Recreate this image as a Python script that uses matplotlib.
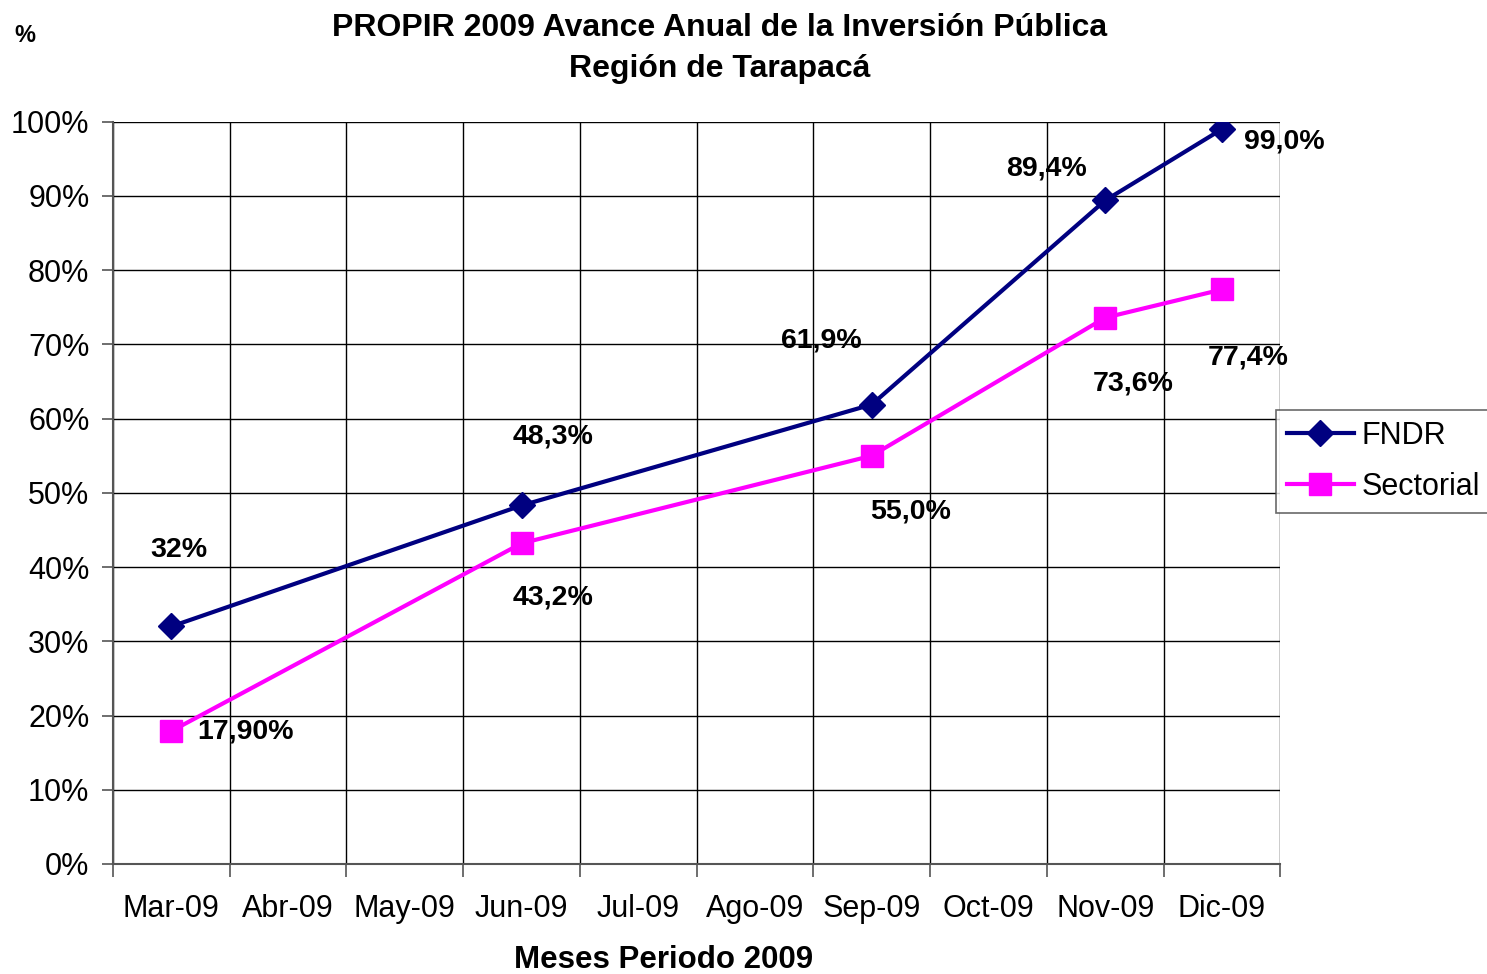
import matplotlib.pyplot as plt
import numpy as np

plt.rcParams["font.family"] = ["Liberation Sans", "DejaVu Sans"]

meses = ["Mar-09", "Abr-09", "May-09", "Jun-09", "Jul-09",
         "Ago-09", "Sep-09", "Oct-09", "Nov-09", "Dic-09"]
puntos_mes = ["Mar-09", "Jun-09", "Sep-09", "Nov-09", "Dic-09"]
fndr = [32.0, 48.3, 61.9, 89.4, 99.0]
sectorial = [17.9, 43.2, 55.0, 73.6, 77.4]
fndr_labels = ["32%", "48,3%", "61,9%", "89,4%", "99,0%"]
sectorial_labels = ["17,90%", "43,2%", "55,0%", "73,6%", "77,4%"]

# label offsets in pixels (dx, dy)
fndr_off = [(8, 76), (31, 69), (-50, 64), (-59, 32), (62, -12)]
sect_off = [(74, 0), (31, -54), (39, -56), (28, -66), (26, -68)]

x = np.array([meses.index(m) for m in puntos_mes])

fig = plt.figure(figsize=(14.87, 9.74), dpi=100)
ax = fig.add_axes([0.076, 0.113, 0.785, 0.762])

ax.plot(x, fndr, color="#000080", linewidth=3, marker="D", markersize=13,
        label="FNDR", zorder=3)
ax.plot(x, sectorial, color="#FF00FF", linewidth=3, marker="s", markersize=16,
        label="Sectorial", zorder=3)

for xi, yi, txt, off in zip(x, fndr, fndr_labels, fndr_off):
    ax.annotate(txt, (xi, yi), xytext=off, textcoords="offset pixels",
                ha="center", va="center", fontsize=20.5, fontweight="bold", zorder=4)
for xi, yi, txt, off in zip(x, sectorial, sectorial_labels, sect_off):
    ax.annotate(txt, (xi, yi), xytext=off, textcoords="offset pixels",
                ha="center", va="center", fontsize=20.5, fontweight="bold", zorder=4)

ax.set_xlim(-0.5, len(meses) - 0.5)
ax.set_ylim(0, 100)
ax.set_xticks(np.arange(len(meses)))
ax.set_xticklabels(meses)
ax.set_xticks(np.arange(-0.5, len(meses)), minor=True)
ax.set_yticks(np.arange(0, 101, 10))
ax.set_yticklabels([f"{v}%" for v in range(0, 101, 10)])

ax.tick_params(axis="x", which="major", length=0, pad=22, labelsize=22)
ax.tick_params(axis="x", which="minor", length=9, width=1.2, color="#555555")
ax.tick_params(axis="y", length=8, width=1.2, color="#555555", pad=9, labelsize=22)

ax.grid(True, axis="y", color="black", linewidth=1)
ax.grid(True, axis="x", which="minor", color="black", linewidth=1)
ax.set_axisbelow(True)
for side in ["top", "right"]:
    ax.spines[side].set_visible(False)
for side in ["left", "bottom"]:
    ax.spines[side].set_color("#555555")
    ax.spines[side].set_linewidth(1.5)

fig.text(0.484, 0.971, "PROPIR 2009 Avance Anual de la Inversión Pública",
         ha="center", va="center", fontsize=23, fontweight="bold")
fig.text(0.484, 0.929, "Región de Tarapacá",
         ha="center", va="center", fontsize=23, fontweight="bold")
fig.text(0.017, 0.964, "%", ha="center", va="center", fontsize=17, fontweight="bold")
fig.text(0.446, 0.014, "Meses Periodo 2009", ha="center", va="center",
         fontsize=22.5, fontweight="bold")

leg = fig.legend(loc="upper left", bbox_to_anchor=(0.858, 0.579), fontsize=22,
                 frameon=True, fancybox=False, edgecolor="#444444",
                 handlelength=2.2, borderpad=0.35, labelspacing=0.7,
                 handletextpad=0.25, borderaxespad=0)
leg.get_frame().set_linewidth(1.2)

fig.savefig("out.png", dpi=100)
